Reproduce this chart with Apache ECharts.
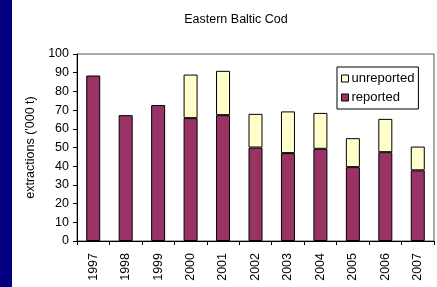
<!DOCTYPE html>
<html>
<head>
<meta charset="utf-8">
<script src="https://cdn.jsdelivr.net/npm/echarts@6/dist/echarts.min.js"></script>
<style>
  html, body { margin: 0; padding: 0; background: #fff; }
  #chart { width: 437px; height: 287px; }
</style>
</head>
<body>
<div id="chart"></div>
<script>
// data ('000 t); no unreported part shown before 2000
const years = ['1997', '1998', '1999', '2000', '2001', '2002', '2003', '2004', '2005', '2006', '2007'];
const reported = [88.5, 67.3, 72.7, 65.7, 67.3, 50, 47, 49.3, 39.5, 47.5, 37.8];
const unreported = [null, null, null, 23.3, 23.7, 18, 22.3, 19.2, 15.5, 17.8, 12.7];
const yTicks = { min: 0, max: 100, step: 10 };

const font = 'Liberation Sans, Arial, sans-serif';

var myChart = echarts.init(document.getElementById('chart'));
let option = {
  animation: false,
  title: {
    text: 'Eastern Baltic Cod',
    left: 231,
    top: 8,
    textAlign: 'center',
    textStyle: { fontFamily: font, fontSize: 12.5, fontWeight: 'normal', color: '#000' }
  },
  graphic: [
    // dark strip on the left edge
    { type: 'rect', left: 0, top: 0, shape: { width: 12, height: 287 }, style: { fill: '#000080' } }
  ],
  grid: {
    left: 77,
    right: 3,
    top: 54,
    bottom: 46,
    show: true,
    borderColor: '#555',
    borderWidth: 1
  },
  legend: {
    data: ['unreported', 'reported'],
    orient: 'vertical',
    left: 337,
    top: 67,
    width: 88,
    backgroundColor: '#fff',
    borderColor: '#000',
    borderWidth: 1,
    padding: [5, 4, 5, 4],
    itemGap: 6,
    itemWidth: 7,
    itemHeight: 7,
    icon: 'rect',
    itemStyle: { borderColor: '#000', borderWidth: 1 },
    textStyle: { fontFamily: font, fontSize: 13, color: '#000', padding: [0, 0, 0, -2] }
  },
  xAxis: {
    type: 'category',
    data: years,
    axisLine: { lineStyle: { color: '#000' } },
    axisTick: { show: true, length: 4, lineStyle: { color: '#000' } },
    axisLabel: { rotate: 90, margin: 12, color: '#000', fontFamily: font, fontSize: 12.5 }
  },
  yAxis: {
    type: 'value',
    min: yTicks.min,
    max: yTicks.max,
    interval: yTicks.step,
    name: "extractions ('000 t)",
    nameLocation: 'middle',
    nameGap: 35,
    nameTextStyle: { fontFamily: font, fontSize: 12.5, color: '#000' },
    axisLine: { show: true, lineStyle: { color: '#000' } },
    axisTick: { show: true, length: 4, lineStyle: { color: '#000' } },
    axisLabel: { margin: 8, color: '#000', fontFamily: font, fontSize: 12.5 },
    splitLine: { show: false }
  },
  series: [
    {
      name: 'reported',
      type: 'bar',
      stack: 'total',
      barWidth: 14,
      data: reported,
      itemStyle: { color: '#993366', borderColor: '#000', borderWidth: 1 }
    },
    {
      name: 'unreported',
      type: 'bar',
      stack: 'total',
      barWidth: 14,
      data: unreported,
      itemStyle: { color: '#FFFFCC', borderColor: '#000', borderWidth: 1 }
    }
  ]
};
myChart.setOption(option);
</script>
</body>
</html>
